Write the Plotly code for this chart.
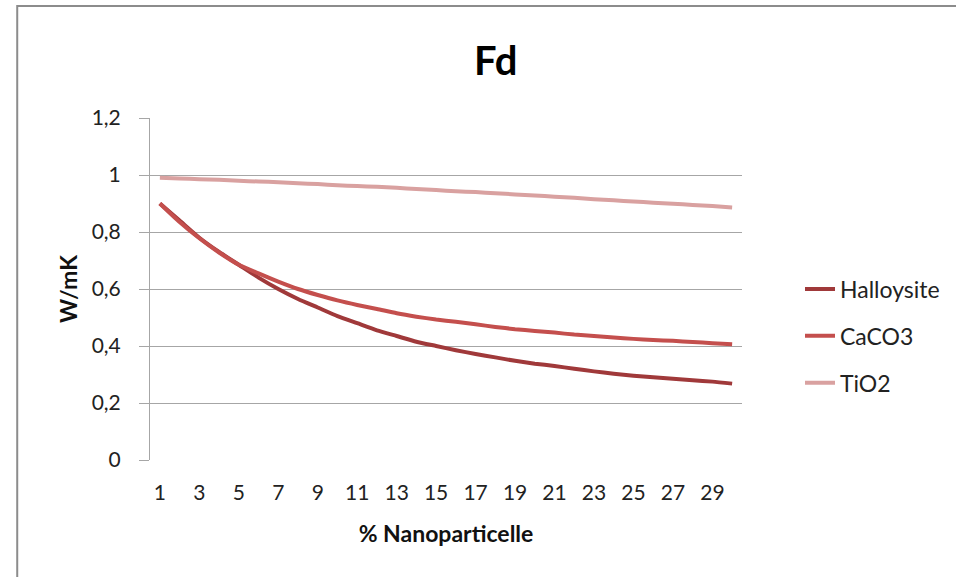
import plotly.graph_objects as go

x_vals = list(range(1, 31))
halloysite = [0.90, 0.84, 0.78, 0.73, 0.685, 0.64, 0.60, 0.565, 0.535, 0.505,
              0.48, 0.455, 0.435, 0.415, 0.40, 0.385, 0.372, 0.36, 0.348, 0.338,
              0.33, 0.32, 0.311, 0.303, 0.296, 0.29, 0.285, 0.28, 0.275, 0.268]
caco3 = [0.90, 0.835, 0.778, 0.728, 0.685, 0.655, 0.626, 0.60, 0.579, 0.56,
         0.544, 0.53, 0.515, 0.503, 0.493, 0.485, 0.476, 0.467, 0.459, 0.453,
         0.447, 0.44, 0.435, 0.43, 0.425, 0.421, 0.418, 0.414, 0.41, 0.406]
tio2 = [0.99, 0.988, 0.985, 0.983, 0.98, 0.977, 0.975, 0.971, 0.968, 0.964,
        0.961, 0.959, 0.955, 0.951, 0.947, 0.943, 0.94, 0.936, 0.932, 0.928,
        0.924, 0.92, 0.915, 0.911, 0.907, 0.903, 0.899, 0.895, 0.891, 0.886]
x_ticks = [1, 3, 5, 7, 9, 11, 13, 15, 17, 19, 21, 23, 25, 27, 29]
x_tick_labels = [str(v) for v in x_ticks]

series = [("Halloysite", halloysite, "#A0393A"),
          ("CaCO3", caco3, "#C44F4D"),
          ("TiO2", tio2, "#D9A1A0")]

FONT = "Lato"
fig = go.Figure()
for name, vals, col in series:
    fig.add_trace(go.Scatter(x=x_vals, y=vals, name=name, mode="lines", legendgroup=name,
                             line=dict(color=col, width=4, shape="spline", smoothing=0.6)))

W, H = 956, 577
L, R, T, B = 150, 213, 118, 117
PW, PH = W - L - R, H - T - B
fig.update_layout(
    width=W, height=H,
    margin=dict(l=L, r=R, t=T, b=B),
    paper_bgcolor="white", plot_bgcolor="white",
    separators=", ",
    font=dict(family=FONT, size=21, color="#222"),
    showlegend=True,
    legend=dict(x=(800 - L) / PW, xanchor="left", y=(460 - 336) / PH, yanchor="middle",
                font=dict(family=FONT, size=23, color="#222"),
                tracegroupgap=14, bgcolor="rgba(0,0,0,0)"),
    xaxis=dict(range=[0.5, 30.5], tickvals=x_ticks, ticktext=x_tick_labels,
               showgrid=False, zeroline=False, showline=False, ticks="",
               ticklabelstandoff=18,
               tickfont=dict(family=FONT, size=21, color="#222"),
               title=dict(text="<b>% Nanoparticelle</b>", font=dict(family=FONT, size=23, color="#111"),
                          standoff=22)),
    yaxis=dict(range=[0, 1.2], dtick=0.2, showgrid=True, gridcolor="#A6A6A6", gridwidth=1,
               zeroline=False, showline=True, linecolor="#A6A6A6", linewidth=1,
               ticks="outside", ticklen=10, tickcolor="#A6A6A6",
               ticklabelstandoff=14,
               tickfont=dict(family=FONT, size=21, color="#222"),
               title=dict(text="<b>W/mK</b>", font=dict(family=FONT, size=23, color="#111"),
                          standoff=7)),
)
# title
fig.add_annotation(text="<b>Fd</b>", xref="paper", yref="paper",
                   x=(497 - L) / PW, y=1 + (T - 60) / PH,
                   xanchor="center", yanchor="middle", showarrow=False,
                   font=dict(family=FONT, size=40, color="#000"))
# chart-area border
fig.add_shape(type="rect", xref="paper", yref="paper",
              x0=(17 - L) / PW, x1=(1000 - L) / PW,
              y0=-(620 - H + B) / PH, y1=1 + (T - 6) / PH,
              line=dict(color="#8C8C8C", width=2), layer="below")

fig.write_html("out.html")
